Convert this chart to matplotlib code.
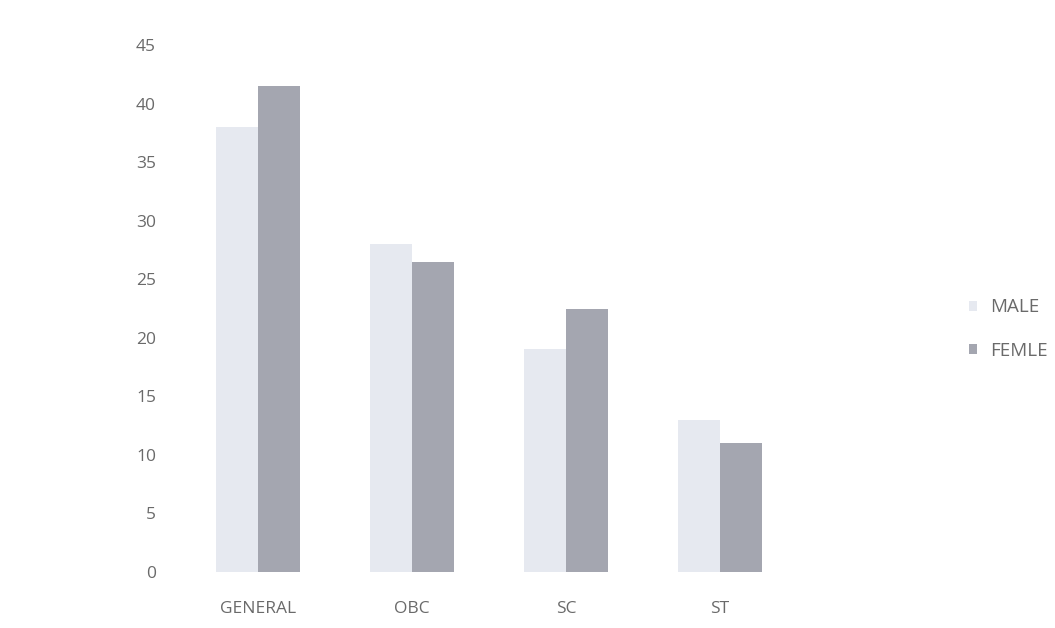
import matplotlib
matplotlib.use("Agg")
import matplotlib.pyplot as plt
import numpy as np

categories = ["GENERAL", "OBC", "SC", "ST"]
male = [38, 28, 19, 13]
female = [41.5, 26.5, 22.5, 11]
y_ticks = [0, 5, 10, 15, 20, 25, 30, 35, 40, 45]

plt.rcParams['font.family'] = ['Open Sans', 'DejaVu Sans']

W, H = 1055, 628
fig = plt.figure(figsize=(W / 100, H / 100), dpi=100)
ax = fig.add_axes([181 / W, (H - 572) / H, 616 / W, (572 - 45) / H])

x = np.arange(len(categories))
bw = 0.27
ax.bar(x - bw / 2, male, width=bw, color="#e6e9f0", label="MALE")
ax.bar(x + bw / 2, female, width=bw, color="#a4a6b0", label="FEMLE")

ax.set_xlim(-0.5, len(categories) - 0.5)
ax.set_ylim(0, 45)
ax.set_yticks(y_ticks)
ax.set_xticks(x)
ax.set_xticklabels(categories)
for s in ax.spines.values():
    s.set_visible(False)
ax.tick_params(axis='both', length=0, colors="#6a6a6a", labelsize=12.5)
ax.tick_params(axis='y', pad=18)
ax.tick_params(axis='x', pad=21)

leg = fig.legend(loc="center left", bbox_to_anchor=(952 / W, 1 - 329 / H),
                 frameon=False, fontsize=13.5, handlelength=0.45, handleheight=0.45,
                 handletextpad=0.7, labelspacing=1.35, labelcolor="#6a6a6a")

fig.savefig("out.png", dpi=100, facecolor="white")
